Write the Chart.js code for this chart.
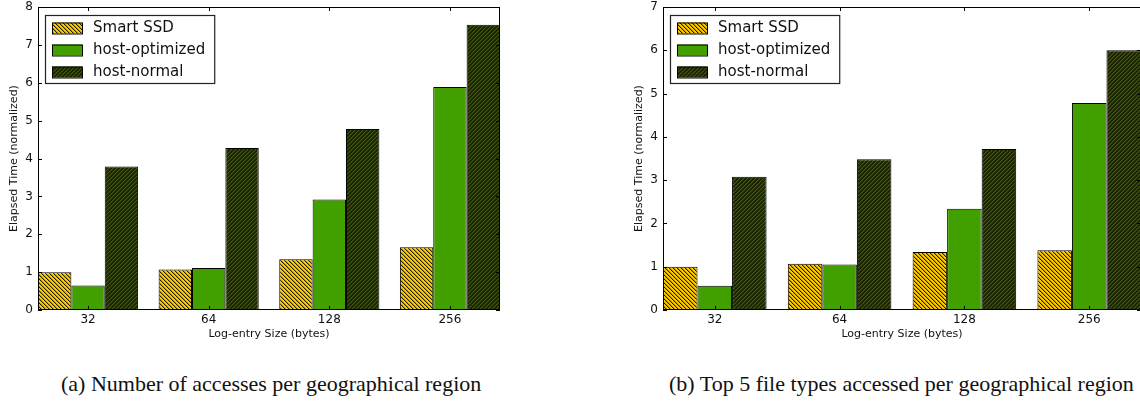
<!DOCTYPE html>
<html>
<head>
<meta charset="utf-8">
<script src="https://cdn.jsdelivr.net/npm/chart.js@4.4.1/dist/chart.umd.min.js"></script>
<style>
  body { margin: 0; width: 1140px; height: 415px; overflow: hidden; position: relative; background: #fff; }
  .box { position: absolute; top: 0; height: 345px; }
  #leftBox { left: 0; width: 515px; }
  #rightBox { left: 625px; width: 530px; }
  .cap { position: absolute; top: 371px; font-family: "Liberation Serif", serif; font-size: 22px; color: #111; white-space: nowrap; }
</style>
</head>
<body>
<div class="box" id="leftBox"><canvas id="chartA"></canvas></div>
<div class="box" id="rightBox"><canvas id="chartB"></canvas></div>
<div class="cap" id="capA" style="left:61px">(a) Number of accesses per geographical region</div>
<div class="cap" id="capB" style="left:669px">(b) Top 5 file types accessed per geographical region</div>
<script>
// data
const sizes = ['32', '64', '128', '256'];
const seriesNames = ['Smart SSD', 'host-optimized', 'host-normal'];

// (a) accesses per region
const smartA = [1.0, 1.07, 1.34, 1.66];
const optA = [0.65, 1.11, 2.92, 5.89];
const normalA = [3.79, 4.28, 4.78, 7.53];

// (b) file types per region
const smartB = [1.0, 1.07, 1.34, 1.38];
const optB = [0.56, 1.05, 2.34, 4.78];
const normalB = [3.08, 3.48, 3.72, 6.0];

// pixel hatch: one hard diagonal + a soft neighbour per 4px tile
function hatch(base, line, soft, dir) {
  const n = 4;
  const c = document.createElement('canvas');
  c.width = n; c.height = n;
  const g = c.getContext('2d');
  g.fillStyle = base;
  g.fillRect(0, 0, n, n);
  for (let py = 0; py < n; py++) {
    for (let px = 0; px < n; px++) {
      const k = dir === '\\' ? ((px - py) % n + n) % n : (px + py) % n;
      if (k === 0) { g.fillStyle = line; g.fillRect(px, py, 1, 1); }
      else if (k === 1) { g.fillStyle = soft; g.fillRect(px, py, 1, 1); }
    }
  }
  return g.createPattern(c, 'repeat');
}

const yellowHatch = hatch('#fccc00', '#221c00', '#b89400', '\\');
const darkHatch = hatch('#1a2500', '#43561a', '#2c3a0a', '/');
const green = '#41a000';

// frame, inward ticks and boxed legend like matplotlib
const frame = {
  id: 'frame',
  afterDatasetsDraw(chart) {
    const { ctx, chartArea: a, scales: { x, y } } = chart;
    ctx.save();
    ctx.strokeStyle = '#000';
    ctx.lineWidth = 1;
    ctx.strokeRect(a.left + 0.5, a.top + 0.5, a.width - 1, a.height - 1);
    ctx.beginPath();
    y.ticks.forEach(t => {
      const py = Math.round(y.getPixelForValue(t.value)) + 0.5;
      ctx.moveTo(a.left, py); ctx.lineTo(a.left + 4, py);
      ctx.moveTo(a.right, py); ctx.lineTo(a.right - 4, py);
    });
    x.ticks.forEach(t => {
      const px = Math.round(x.getPixelForValue(t.value)) + 0.5;
      ctx.moveTo(px, a.top); ctx.lineTo(px, a.top + 4);
      ctx.moveTo(px, a.bottom); ctx.lineTo(px, a.bottom - 4);
    });
    ctx.stroke();

    // legend
    ctx.font = '15px "DejaVu Sans"';
    const sets = chart.data.datasets;
    const textW = Math.max(...sets.map(d => ctx.measureText(d.label).width));
    const bx = a.left + 7, by = a.top + 8;
    const bw = 54 + textW + 3, bh = 68;
    ctx.fillStyle = '#fff';
    ctx.fillRect(bx, by, bw, bh);
    ctx.strokeStyle = '#222';
    ctx.lineWidth = 1.2;
    ctx.strokeRect(bx + 0.5, by + 0.5, bw, bh);
    sets.forEach((d, i) => {
      const cy = by + 12.5 + i * 22;
      ctx.fillStyle = d.backgroundColor;
      ctx.fillRect(bx + 7, cy - 5, 30, 11);
      ctx.strokeStyle = '#000';
      ctx.lineWidth = 1;
      ctx.strokeRect(bx + 7.5, cy - 4.5, 30, 11);
      ctx.fillStyle = '#111';
      ctx.textBaseline = 'middle';
      ctx.fillText(d.label, bx + 48, cy + 1);
    });
    ctx.restore();
  }
};

function makeChart(id, smart, opt, normal, yMax, padRight) {
  const series = [smart, opt, normal];
  const fills = [yellowHatch, green, darkHatch];
  return new Chart(document.getElementById(id), {
    type: 'bar',
    data: {
      datasets: series.map((vals, k) => ({
        label: seriesNames[k],
        data: vals.map((v, i) => ({ x: i, y: v })),
        backgroundColor: fills[k],
        borderColor: '#000',
        borderWidth: 1,
        categoryPercentage: 0.83,
        barPercentage: 1.0
      }))
    },
    options: {
      responsive: true,
      maintainAspectRatio: false,
      animation: false,
      layout: { padding: { top: 7, right: padRight, left: 0, bottom: 0 } },
      plugins: { legend: { display: false }, tooltip: { enabled: false } },
      scales: {
        x: {
          type: 'linear',
          min: -0.415,
          max: 3.415,
          offset: false,
          grid: { display: false, drawTicks: false },
          border: { display: false },
          afterBuildTicks: s => { s.ticks = sizes.map((_, i) => ({ value: i })); },
          afterFit: s => { s.height = 35; s.paddingLeft = 0; s.paddingRight = 0; },
          ticks: {
            padding: 3,
            color: '#111',
            font: { family: 'DejaVu Sans', size: 12 },
            callback: v => sizes[v]
          },
          title: {
            display: true,
            text: 'Log-entry Size (bytes)',
            color: '#111',
            font: { family: 'DejaVu Sans', size: 11 },
            padding: { top: 0, bottom: 4 }
          }
        },
        y: {
          min: 0,
          max: yMax,
          grid: { display: false, drawTicks: false },
          border: { display: false },
          afterFit: s => { s.width = 38; s.paddingTop = 0; s.paddingBottom = 0; },
          ticks: {
            stepSize: 1,
            padding: 5,
            color: '#111',
            font: { family: 'DejaVu Sans', size: 12 }
          },
          title: {
            display: true,
            text: 'Elapsed Time (normalized)',
            color: '#111',
            font: { family: 'DejaVu Sans', size: 11 },
            padding: { top: 8, bottom: 0 }
          }
        }
      }
    },
    plugins: [frame]
  });
}

makeChart('chartA', smartA, optA, normalA, 8, 15);
makeChart('chartB', smartB, optB, normalB, 7, 14);
</script>
</body>
</html>
